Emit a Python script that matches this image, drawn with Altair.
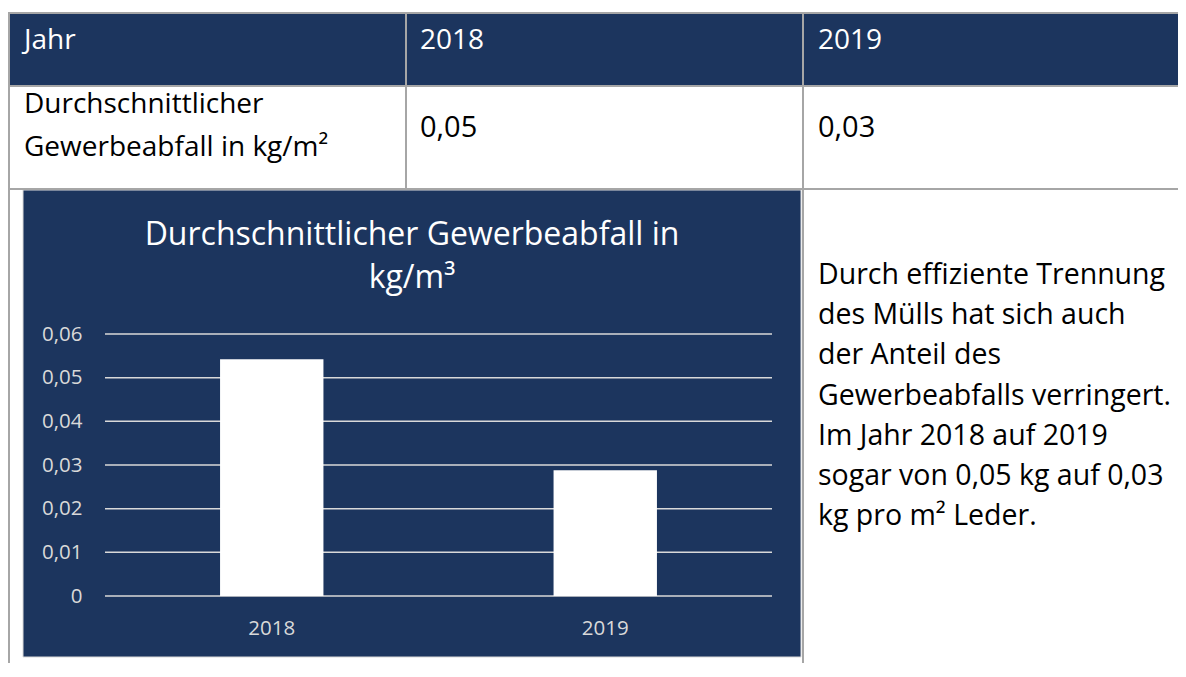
import altair as alt
import pandas as pd

# ---------------- data ----------------
years = ["2018", "2019"]
waste = [0.0542, 0.0288]
y_ticks = [0, 0.01, 0.02, 0.03, 0.04, 0.05, 0.06]
chart_title = ["Durchschnittlicher Gewerbeabfall in", "kg/m³"]
table_header = ["Jahr", "2018", "2019"]
table_row_label = ["Durchschnittlicher", "Gewerbeabfall in kg/m²"]
table_values = ["0,05", "0,03"]
note_lines = [
    "Durch effiziente Trennung",
    "des Mülls hat sich auch",
    "der Anteil des",
    "Gewerbeabfalls verringert.",
    "Im Jahr 2018 auf 2019",
    "sogar von 0,05 kg auf 0,03",
    "kg pro m² Leder.",
]

# ---------------- styles / layout ----------------
NAVY = "#1c355e"
GRID = "#d9d9d9"
BORDER = "#a6a6a6"
TFONT = "Open Sans"
CFONT = "Open Sans"

W, H = 667, 262          # plot area of the bar chart
OX, OY = 105, 334        # page position of the plot area
TOTAL_W, TOTAL_H = 1170, 655


def X(p):
    return p - OX


def Y(p):
    return p - OY


one = alt.Data(values=[{"k": 0}])


def rect(x1, x2, y1, y2, **kw):
    return alt.Chart(one).mark_rect(**kw).encode(
        x=alt.value(X(x1)), x2=alt.value(X(x2)),
        y=alt.value(Y(y1)), y2=alt.value(Y(y2)))


def hrule(x1, x2, y, **kw):
    return alt.Chart(one).mark_rule(**kw).encode(
        x=alt.value(X(x1)), x2=alt.value(X(x2)), y=alt.value(Y(y)))


def vrule(x, y1, y2, **kw):
    return alt.Chart(one).mark_rule(**kw).encode(
        x=alt.value(X(x)), y=alt.value(Y(y1)), y2=alt.value(Y(y2)))


def text(s, x, y, **kw):
    return alt.Chart(one).mark_text(baseline="alphabetic", **kw).encode(
        x=alt.value(X(x)), y=alt.value(Y(y)), text=alt.value(s))


layers = []

# table header background
layers.append(rect(9, 1200, 13, 86, color=NAVY))
# chart box
layers.append(rect(23, 801, 190, 657, fill=NAVY, stroke=GRID, strokeWidth=1))

# table borders
for yy in [13, 86, 189]:
    layers.append(hrule(9, 1200, yy, color=BORDER, strokeWidth=2))
layers.append(vrule(9, 12, 700, color=BORDER, strokeWidth=2))
layers.append(vrule(406, 12, 189, color=BORDER, strokeWidth=2))
layers.append(vrule(803, 12, 700, color=BORDER, strokeWidth=2))

# header text
for s, xx in zip(table_header, [24, 420, 818]):
    layers.append(text(s, xx, 49, align="left", font=TFONT, fontSize=28, color="white"))
# row text
for s, yy in zip(table_row_label, [113, 156]):
    layers.append(text(s, 24, yy, align="left", font=TFONT, fontSize=28, color="black"))
for s, xx in zip(table_values, [420, 818]):
    layers.append(text(s, xx, 137, align="left", font=TFONT, fontSize=29, color="black"))
# note text
for i, s in enumerate(note_lines):
    layers.append(text(s, 818, 284 + i * 40.2, align="left", font=TFONT, fontSize=28.5, color="black"))

# chart title
for s, yy in zip(chart_title, [245, 288]):
    layers.append(text(s, 412, yy, align="center", font=CFONT, fontSize=32, color="white"))

# gridlines
grid_df = pd.DataFrame({"Wert": y_ticks})
layers.append(
    alt.Chart(grid_df).mark_rule(color=GRID, strokeWidth=1.5).encode(
        y=alt.Y("Wert:Q"), x=alt.value(0), x2=alt.value(W))
)

# bars
bars = alt.Chart(pd.DataFrame({"Jahr": years, "Wert": waste})).mark_bar(color="white").encode(
    x=alt.X("Jahr:N", sort=years,
            scale=alt.Scale(paddingInner=0.69, paddingOuter=0.345),
            axis=alt.Axis(title=None, labelAngle=0, domain=False, ticks=False,
                          labelPadding=22, labelFont=CFONT, labelFontSize=20.5,
                          labelColor=GRID, zindex=1)),
    y=alt.Y("Wert:Q", scale=alt.Scale(domain=[0, 0.06], nice=False, zero=True),
            axis=alt.Axis(title=None, values=y_ticks, grid=False, domain=False,
                          ticks=False, labelPadding=23, labelFont=CFONT,
                          labelFontSize=20.5, labelColor=GRID, zindex=1,
                          labelExpr="datum.value == 0 ? '0' : replace(format(datum.value, '.2f'), '.', ',')")),
)
layers.append(bars)

chart = alt.layer(*layers).properties(
    width=W, height=H,
    autosize=alt.AutoSizeParams(type="none"),
    padding={"left": OX - 8, "top": OY - 8,
             "right": TOTAL_W - (OX - 8) - W,
             "bottom": TOTAL_H - (OY - 8) - H},
    background="white",
).configure_view(stroke=None)

chart.save("out.html", embed_options={"renderer": "svg", "actions": False})
